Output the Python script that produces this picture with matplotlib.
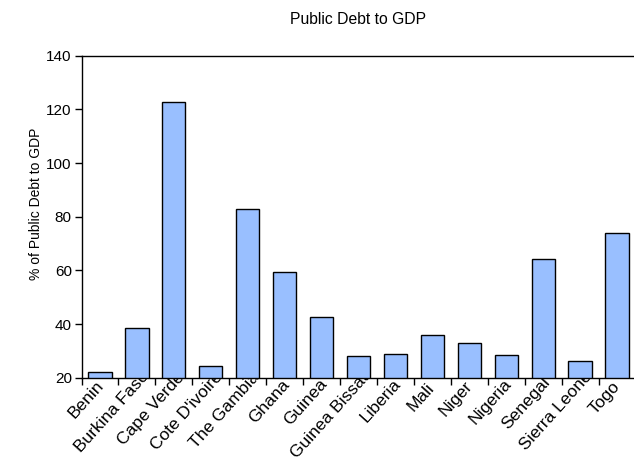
import matplotlib
matplotlib.use("Agg")
import numpy as np
import matplotlib.pyplot as plt
from matplotlib.transforms import Bbox, TransformedBbox

# Data
countries = ["Benin", "Burkina Faso", "Cape Verde", "Cote D'ivoire", "The Gambia",
             "Ghana", "Guinea", "Guinea Bissau", "Liberia", "Mali", "Niger",
             "Nigeria", "Senegal", "Sierra Leone", "Togo"]
debt_ratio = [22.0, 38.4, 122.6, 24.5, 83.0, 59.5, 42.7, 28.0, 28.7, 35.8,
              32.8, 28.3, 64.2, 26.1, 73.9]
y_ticks = [20, 40, 60, 80, 100, 120, 140]

plt.rcParams['font.family'] = ['Liberation Sans', 'DejaVu Sans']

W, H = 634, 461
fig = plt.figure(figsize=(W / 100, H / 100), dpi=100)
left, right, bottom, top = 81.5, 635.5, 377.7, 55.7
ax = fig.add_axes([left / W, 1 - bottom / H, (right - left) / W, (bottom - top) / H])

x = list(range(len(countries)))
ax.bar(x, debt_ratio, width=0.63, color='#99bfff', edgecolor='black', linewidth=1.0)

ax.set_xlim(-0.5, len(countries) - 0.5)
ax.set_ylim(20, 140)
ax.set_yticks(y_ticks)
ax.set_xticks([i - 0.5 for i in x])
ax.set_xticklabels([])
ax.tick_params(axis='y', direction='out', length=5, width=1, labelsize=11, pad=2)
ax.tick_params(axis='x', direction='out', length=5, width=1)
ax.spines['right'].set_visible(False)
for s in ['left', 'top', 'bottom']:
    ax.spines[s].set_linewidth(1.0)

ax.set_title('Public Debt to GDP', fontsize=11.3, pad=23)
ax.set_ylabel('% of Public Debt to GDP', fontsize=10)
ax.yaxis.set_label_coords((43.5 - left) / (right - left), (bottom - 203.5) / (bottom - top))

# Category labels, slanted; longer ones run up past the axis and get clipped there
angle = 48
cs, sn = np.cos(np.radians(angle)), np.sin(np.radians(angle))
clip = TransformedBbox(Bbox([[0, 0], [1, 1 - bottom / H]]), fig.transFigure)
fig.canvas.draw()
r = fig.canvas.get_renderer()
for i, name in zip(x, countries):
    a = ax.annotate(name, xy=(i, 0), xycoords=ax.get_xaxis_transform(),
                    xytext=(0, 0), textcoords='offset pixels', rotation=angle,
                    ha='right', va='center', rotation_mode='anchor',
                    fontsize=12.5, annotation_clip=False)
    w, h, d = r.get_text_width_height_descent(name, a.get_fontproperties(), ismath=False)
    s = 0.22 * w
    a.xyann = (-5.3 + s * cs, -12.5 + s * sn)
    a.set_clip_box(clip)
    a.set_clip_on(True)

fig.savefig('out.png', dpi=100)
